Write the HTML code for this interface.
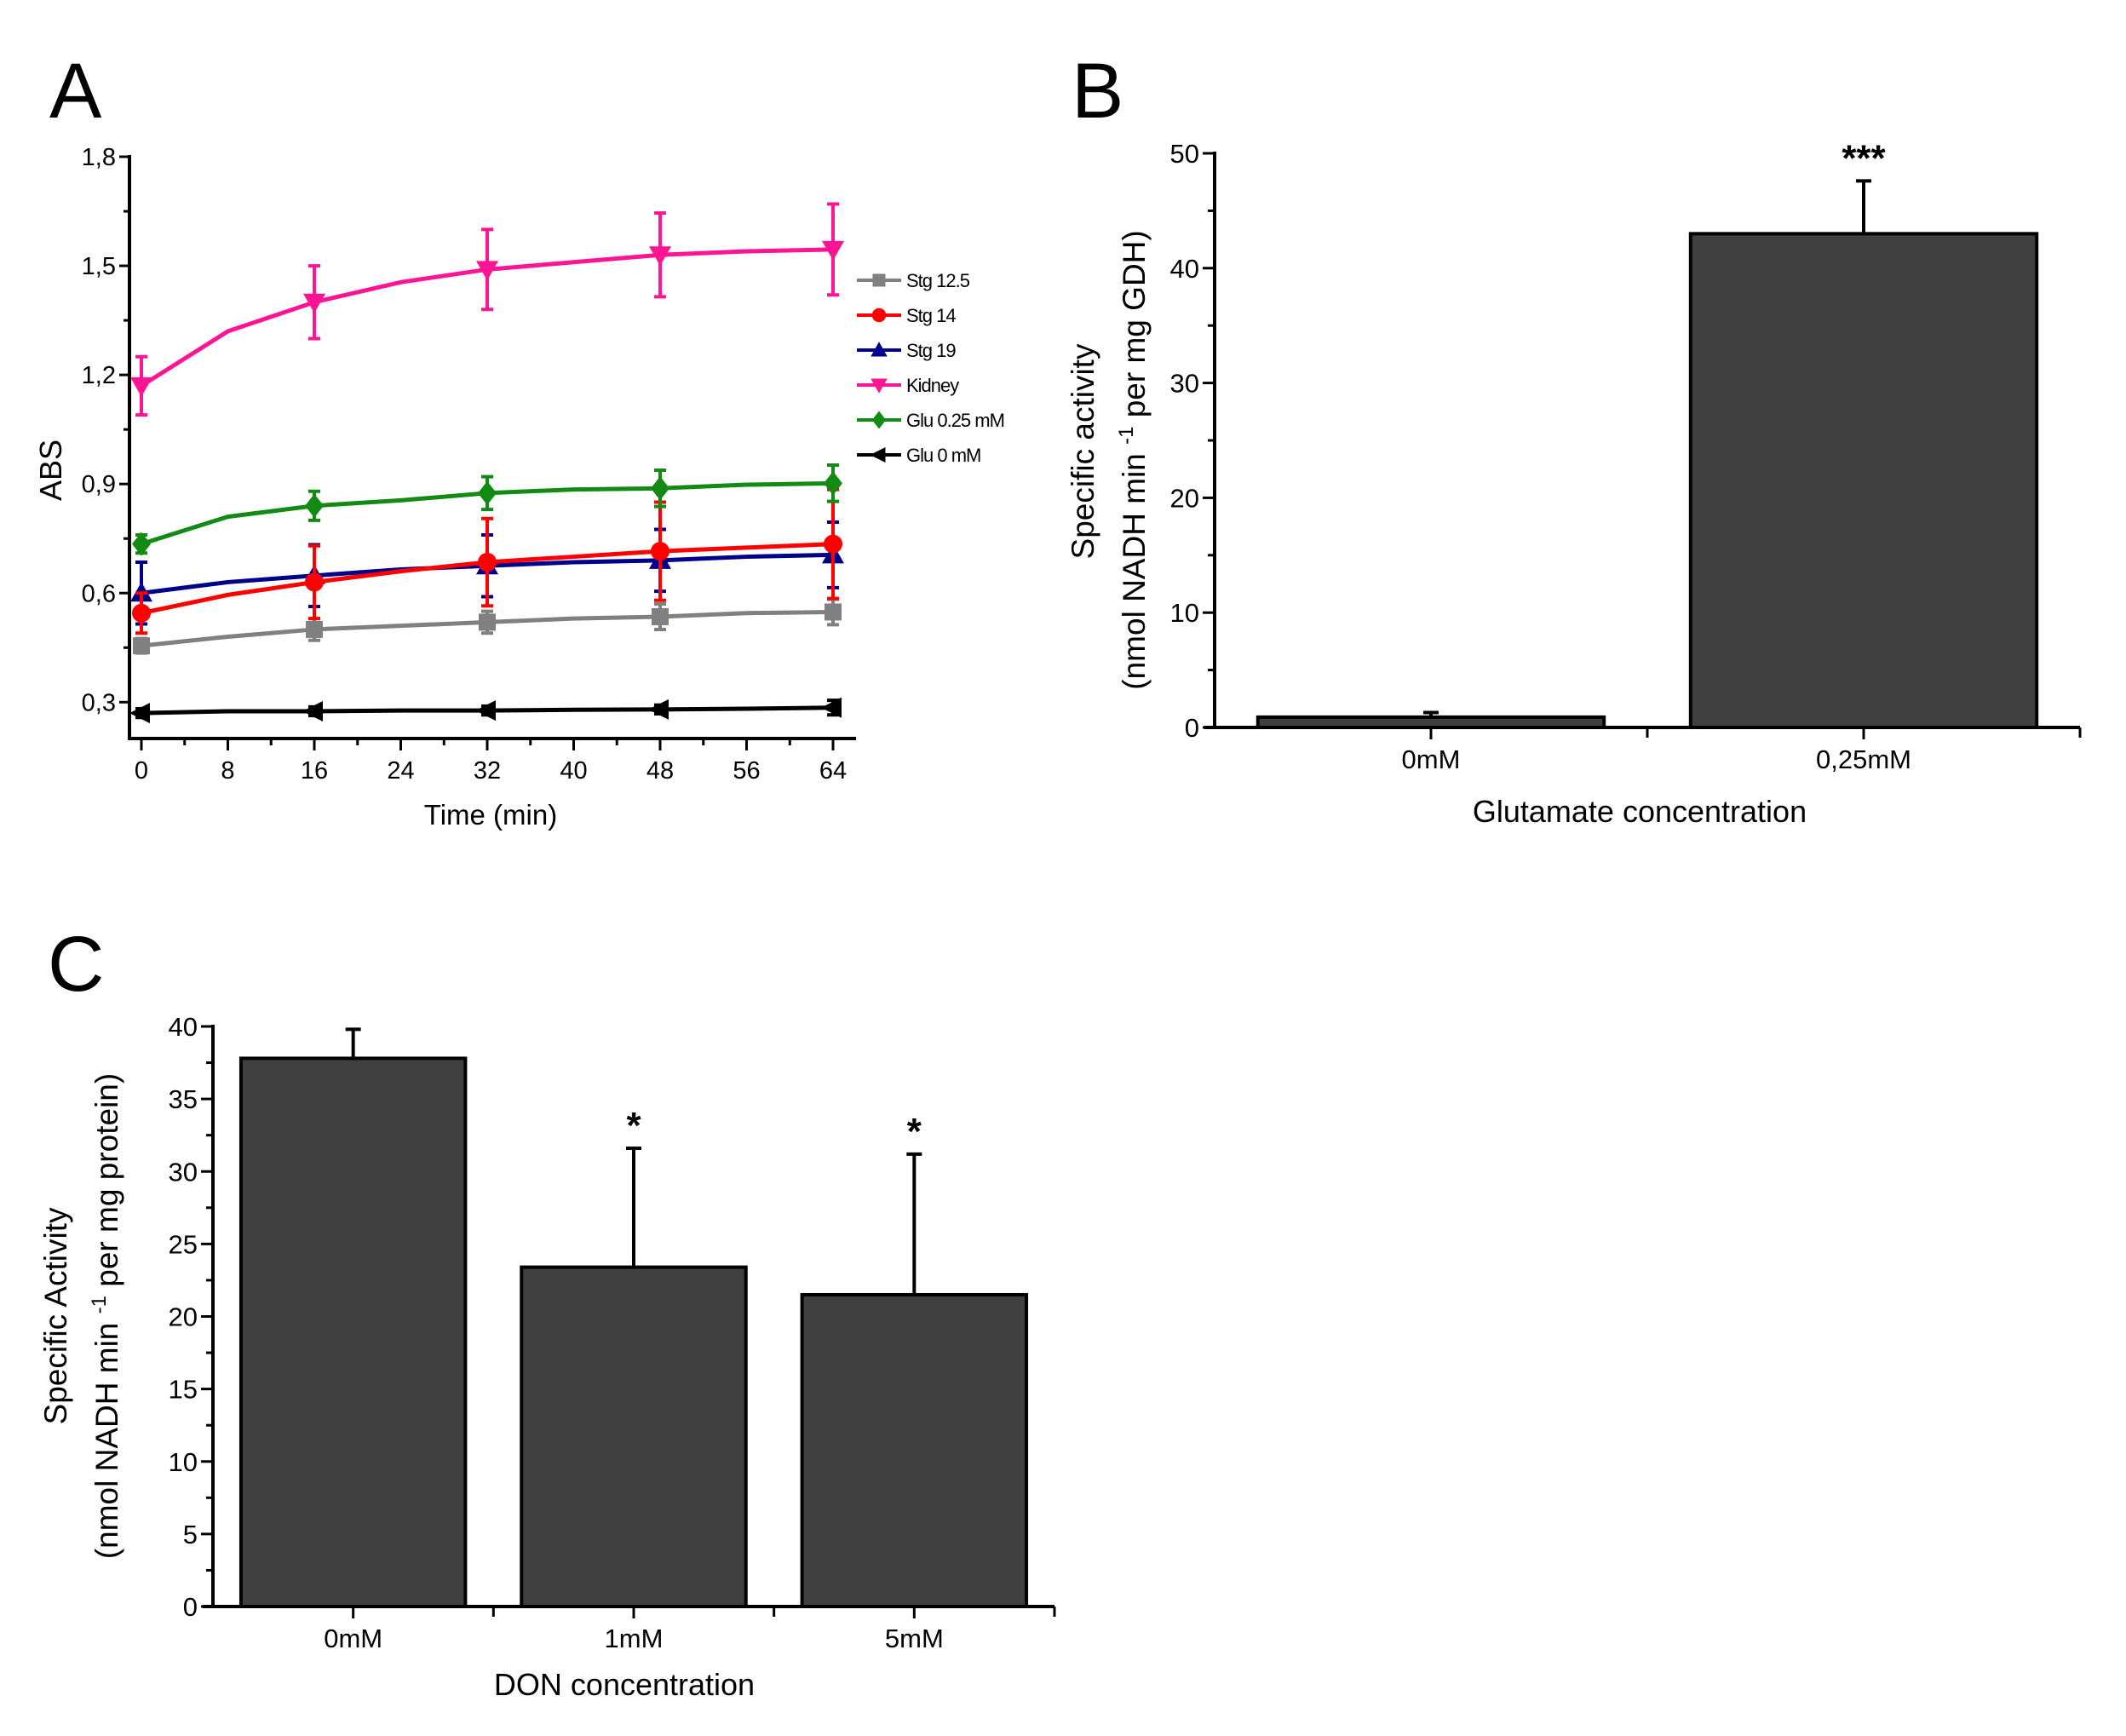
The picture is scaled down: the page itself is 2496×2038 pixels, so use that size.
<!DOCTYPE html>
<html><head><meta charset="utf-8"><style>
html,body{margin:0;padding:0;background:#fff;}
svg{display:block;}
text{font-family:"Liberation Sans Narrow","Liberation Sans",sans-serif;fill:#000;}
.big{font-family:"Liberation Sans",sans-serif;}
</style></head><body>
<svg id="fig" width="2496" height="2038" viewBox="0 0 2496 2038" xmlns="http://www.w3.org/2000/svg">
<rect width="2496" height="2038" fill="#fff"/>
<text class="big" x="58" y="138" font-size="92">A</text>
<text class="big" x="1258" y="138" font-size="92">B</text>
<text class="big" x="56" y="1163" font-size="92">C</text>
<g id="gA"></g>
<g id="gB"></g>
<g id="gC"></g>
</svg>
<script>
// ---- Panel A data ----
const timesA = [0, 8, 16, 24, 32, 40, 48, 56, 64];
const markerTimes = [0, 16, 32, 48, 64];
const seriesNames = ["Stg 12.5", "Stg 14", "Stg 19", "Kidney", "Glu 0.25 mM", "Glu 0 mM"];
const seriesColors = ["#808080", "#ff0000", "#00008b", "#ff1493", "#138a13", "#000000"];
const stg125 = [0.455, 0.48, 0.50, 0.51, 0.52, 0.53, 0.535, 0.545, 0.548];
const stg14 = [0.545, 0.595, 0.63, 0.66, 0.685, 0.70, 0.715, 0.725, 0.735];
const stg19 = [0.60, 0.63, 0.648, 0.665, 0.675, 0.685, 0.69, 0.70, 0.705];
const kidney = [1.17, 1.32, 1.40, 1.455, 1.49, 1.51, 1.53, 1.54, 1.545];
const glu025 = [0.735, 0.81, 0.84, 0.855, 0.875, 0.885, 0.888, 0.898, 0.902];
const glu0 = [0.27, 0.275, 0.275, 0.277, 0.277, 0.279, 0.28, 0.282, 0.285];
const errStg125 = [0.02, 0.03, 0.03, 0.035, 0.035];
const errStg14 = [0.055, 0.10, 0.12, 0.135, 0.15];
const errStg19 = [0.085, 0.085, 0.085, 0.085, 0.09];
const errKidney = [0.08, 0.10, 0.11, 0.115, 0.125];
const errGlu025 = [0.025, 0.04, 0.045, 0.05, 0.05];
const errGlu0 = [0.012, 0.012, 0.012, 0.012, 0.02];
const yTicksA = ["0,3", "0,6", "0,9", "1,2", "1,5", "1,8"];
const yTickValsA = [0.3, 0.6, 0.9, 1.2, 1.5, 1.8];
const xTicksA = [0, 8, 16, 24, 32, 40, 48, 56, 64];
// ---- Panel B data ----
const catsB = ["0mM", "0,25mM"];
const valsB = [0.9, 43.0];
const errB = [0.4, 4.6];
const sigB = ["", "***"];
const yTicksB = [0, 10, 20, 30, 40, 50];
// ---- Panel C data ----
const catsC = ["0mM", "1mM", "5mM"];
const valsC = [37.8, 23.4, 21.5];
const errC = [2.0, 8.2, 9.7];
const sigC = ["", "*", "*"];
const yTicksC = [0, 5, 10, 15, 20, 25, 30, 35, 40];

const NS = "http://www.w3.org/2000/svg";
function mk(parent, tag, attrs, txt) {
  const e = document.createElementNS(NS, tag);
  for (const k in attrs) e.setAttribute(k, attrs[k]);
  if (txt !== undefined) e.textContent = txt;
  parent.appendChild(e);
  return e;
}

// ================= Panel A =================
(function () {
  const g = document.getElementById('gA');
  const X0 = 166, X1 = 978, YT = 184, YB = 867;
  const xs = t => X0 + t * (X1 - X0) / 64;
  const ys = v => YB - (v - 0.2) * (YB - YT) / 1.6;
  const series = [stg125, stg14, stg19, kidney, glu025, glu0];
  const errs = [errStg125, errStg14, errStg19, errKidney, errGlu025, errGlu0];
  let a = mk(g, 'line', {x1: 152, y1: YT - 2, x2: 152, y2: YB + 2, stroke: '#000', 'stroke-width': 4});
   
  a = mk(g, 'line', {x1: 150, y1: YB, x2: 1005, y2: YB, stroke: '#000', 'stroke-width': 4});
   
  for (let i = 0; i < yTickValsA.length; i++) {
    const y = ys(yTickValsA[i]);
    mk(g, 'line', {x1: 140, y1: y, x2: 152, y2: y, stroke: '#000', 'stroke-width': 3});
    const t = mk(g, 'text', {x: 136, y: y + 10, 'font-size': 29, 'text-anchor': 'end'}, yTicksA[i]);
     
    const ym = ys(yTickValsA[i] - 0.15);
    if (ym < YB) mk(g, 'line', {x1: 145, y1: ym, x2: 152, y2: ym, stroke: '#000', 'stroke-width': 3});
  }
  for (const tk of xTicksA) {
    const x = xs(tk);
    mk(g, 'line', {x1: x, y1: YB, x2: x, y2: YB + 14, stroke: '#000', 'stroke-width': 3});
    const t = mk(g, 'text', {x: x, y: YB + 47, 'font-size': 29, 'text-anchor': 'middle'}, String(tk));
     
    if (tk < 64) { const xm = xs(tk + 4); mk(g, 'line', {x1: xm, y1: YB, x2: xm, y2: YB + 8, stroke: '#000', 'stroke-width': 3}); }
  }
  let t = mk(g, 'text', {x: 576, y: 968, 'font-size': 33, 'text-anchor': 'middle'}, 'Time (min)');
   
  t = mk(g, 'text', {class: 'big', x: 0, y: 0, 'font-size': 36, 'text-anchor': 'middle', transform: 'translate(72,552) rotate(-90)'}, 'ABS');
   

  function marker(parent, i, x, y, col) {
    const s = 13;
    let m;
    if (i === 0) m = mk(parent, 'rect', {x: x - 10, y: y - 10, width: 20, height: 20, fill: col});
    else if (i === 1) m = mk(parent, 'circle', {cx: x, cy: y, r: 11, fill: col});
    else if (i === 2) m = mk(parent, 'polygon', {points: `${x},${y - s} ${x - s},${y + 10} ${x + s},${y + 10}`, fill: col});
    else if (i === 3) m = mk(parent, 'polygon', {points: `${x},${y + s} ${x - s},${y - 10} ${x + s},${y - 10}`, fill: col});
    else if (i === 4) m = mk(parent, 'polygon', {points: `${x},${y - 14} ${x + 11},${y} ${x},${y + 14} ${x - 11},${y}`, fill: col});
    else m = mk(parent, 'polygon', {points: `${x - 14},${y} ${x + 10},${y - 12} ${x + 10},${y + 12}`, fill: col});
    return m;
  }
  const order = [0, 5, 2, 1, 4, 3];
  for (const i of order) {
    const col = seriesColors[i];
    const sg = mk(g, 'g', {});
    
    
    const pts = timesA.map((tm, j) => xs(tm) + ',' + ys(series[i][j])).join(' ');
    const pl = mk(sg, 'polyline', {points: pts, fill: 'none', stroke: col, 'stroke-width': 5});
    
    
    markerTimes.forEach((tm, j) => {
      const idx = timesA.indexOf(tm);
      const x = xs(tm), v = series[i][idx], e = errs[i][j];
      const eb = mk(sg, 'path', {d: `M${x},${ys(v + e)}V${ys(v - e)}M${x - 7},${ys(v + e)}H${x + 7}M${x - 7},${ys(v - e)}H${x + 7}`, stroke: col, 'stroke-width': 4, fill: 'none'});
      
      
      const m = marker(sg, i, x, ys(v), col);
      
      
    });
  }
  const lg = mk(g, 'g', {});
  
  
  seriesNames.forEach((nm, i) => {
    const y = 329 + i * 41;
    const le = mk(lg, 'g', {});
    
    
    mk(le, 'line', {x1: 1006, y1: y, x2: 1058, y2: y, stroke: seriesColors[i], 'stroke-width': 4});
    const m = marker(le, i, 1032, y, seriesColors[i]);
    m.setAttribute('transform', `translate(${1032 * 0.25},${y * 0.25}) scale(0.75)`);
    mk(le, 'text', {x: 1064, y: y + 8, 'font-size': 22, 'letter-spacing': '-1'}, nm);
  });
})();

function barChart(g, o) {
  const ys = v => o.YB - v * (o.YB - o.YT) / o.ymax;
  let a = mk(g, 'line', {x1: o.AX, y1: o.YT - 2, x2: o.AX, y2: o.YB + 2, stroke: '#000', 'stroke-width': 4});
   
  a = mk(g, 'line', {x1: o.AX - 12, y1: o.YB, x2: o.AXR, y2: o.YB, stroke: '#000', 'stroke-width': 4});
   
  o.ticks.forEach((tv, k) => {
    const y = ys(tv);
    mk(g, 'line', {x1: o.AX - 14, y1: y, x2: o.AX, y2: y, stroke: '#000', 'stroke-width': 3});
    const t = mk(g, 'text', {x: o.AX - 18, y: y + 11, 'font-size': 31, 'text-anchor': 'end'}, String(tv));
     
    if (k < o.ticks.length - 1) {
      const ym = ys(tv + (o.ticks[1] - o.ticks[0]) / 2);
      mk(g, 'line', {x1: o.AX - 8, y1: ym, x2: o.AX, y2: ym, stroke: '#000', 'stroke-width': 3});
    }
  });
  const n = o.cats.length;
  const cw = (o.AXR - o.AX) / n;
  for (let k = 1; k <= n; k++) {
    const x = o.AX + k * cw;
    mk(g, 'line', {x1: x, y1: o.YB, x2: x, y2: o.YB + 12, stroke: '#000', 'stroke-width': 3});
  }
  o.cats.forEach((c, k) => {
    const cx = o.AX + (k + 0.5) * cw;
    const bw = cw * o.bf;
    mk(g, 'line', {x1: cx, y1: o.YB, x2: cx, y2: o.YB + 14, stroke: '#000', 'stroke-width': 3});
    const v = o.vals[k], e = o.errs[k];
    const eb = mk(g, 'path', {d: `M${cx},${ys(v)}V${ys(v + e)}M${cx - 9},${ys(v + e)}H${cx + 9}`, stroke: '#000', 'stroke-width': 4, fill: 'none'});
    
    
    const r = mk(g, 'rect', {x: cx - bw / 2, y: ys(v), width: bw, height: o.YB - ys(v), fill: '#404040', stroke: '#000', 'stroke-width': 4});
    
    
    const t = mk(g, 'text', {x: cx, y: o.YB + 48, 'font-size': 31, 'text-anchor': 'middle'}, c);
     
    if (o.sig[k]) {
      const s = mk(g, 'text', {class: 'big', x: cx, y: ys(v + e) - 12, 'font-size': 44, 'font-weight': 'bold', 'text-anchor': 'middle'}, o.sig[k]);
       
    }
  });
}

barChart(document.getElementById('gB'), {AX: 1426, AXR: 2442, YT: 180, YB: 854, ymax: 50, ticks: yTicksB, cats: catsB, vals: valsB, errs: errB, sig: sigB, bf: 0.8});
barChart(document.getElementById('gC'), {AX: 250, AXR: 1238, YT: 1205, YB: 1886, ymax: 40, ticks: yTicksC, cats: catsC, vals: valsC, errs: errC, sig: sigC, bf: 0.8});

(function () {
  const gB = document.getElementById('gB');
  let t = mk(gB, 'text', {class: 'big', x: 1925, y: 965, 'font-size': 36, 'text-anchor': 'middle'}, 'Glutamate concentration');
   
  t = mk(gB, 'text', {class: 'big', x: 0, y: 0, 'font-size': 37, 'text-anchor': 'middle', transform: 'translate(1284,530) rotate(-90)'}, 'Specific activity');
   
  t = mk(gB, 'text', {class: 'big', x: 0, y: 0, 'font-size': 37, 'text-anchor': 'middle', transform: 'translate(1344,540) rotate(-90)'});
   
  t.innerHTML = '(nmol NADH min <tspan dy="-14" font-size="24">-1</tspan><tspan dy="14"> per mg GDH)</tspan>';

  const gC = document.getElementById('gC');
  t = mk(gC, 'text', {x: 733, y: 1990, 'font-size': 36, 'text-anchor': 'middle'}, 'DON concentration');
   
  t = mk(gC, 'text', {class: 'big', x: 0, y: 0, 'font-size': 37, 'text-anchor': 'middle', transform: 'translate(78,1545) rotate(-90)'}, 'Specific Activity');
   
  t = mk(gC, 'text', {class: 'big', x: 0, y: 0, 'font-size': 37, 'text-anchor': 'middle', transform: 'translate(138,1545) rotate(-90)'});
   
  t.innerHTML = '(nmol NADH min <tspan dy="-14" font-size="24">-1</tspan><tspan dy="14"> per mg protein)</tspan>';
})();
</script>
</body></html>
